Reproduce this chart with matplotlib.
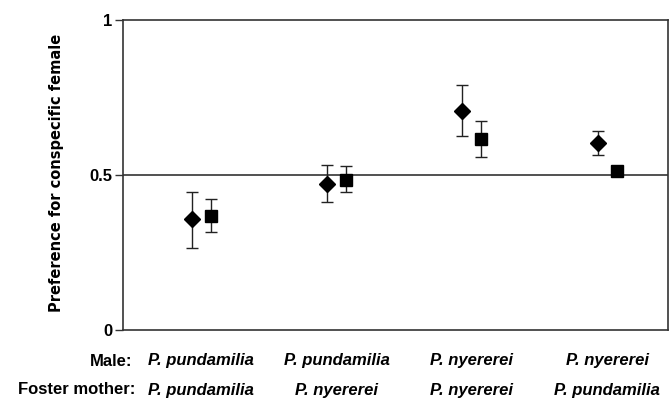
import matplotlib
matplotlib.use("Agg")
import matplotlib.pyplot as plt
import matplotlib.transforms as mtransforms
import numpy as np

plt.rcParams['font.family'] = ['Liberation Sans', 'DejaVu Sans']

male = ["P. pundamilia", "P. pundamilia", "P. nyererei", "P. nyererei"]
foster = ["P. pundamilia", "P. nyererei", "P. nyererei", "P. pundamilia"]

diamond_mean = [0.358, 0.471, 0.706, 0.603]
diamond_upper = [0.445, 0.532, 0.790, 0.642]
diamond_lower = [0.265, 0.413, 0.626, 0.565]

square_mean = [0.368, 0.484, 0.616, 0.513]
square_upper = [0.423, 0.529, 0.674, 0.522]
square_lower = [0.316, 0.445, 0.558, 0.504]

yticks = [0, 0.5, 1]
ytick_labels = ["0", "0.5", "1"]

fig = plt.figure(figsize=(6.72, 4.01), dpi=100)
ax = fig.add_axes([123/672, 71/401, 545/672, 310/401])

x = np.arange(1, len(male) + 1)
off = 0.07

dm = np.array(diamond_mean)
sm = np.array(square_mean)
ax.errorbar(x - off, dm, yerr=[dm - np.array(diamond_lower), np.array(diamond_upper) - dm],
            fmt='D', color='black', ms=8.5, ecolor='#222222', elinewidth=1.0,
            capsize=4, capthick=1.0, zorder=3)
ax.errorbar(x + off, sm, yerr=[sm - np.array(square_lower), np.array(square_upper) - sm],
            fmt='s', color='black', ms=9, ecolor='#222222', elinewidth=1.0,
            capsize=4, capthick=1.0, zorder=3)

ax.axhline(0.5, color='#333333', lw=1.2, zorder=1)

ax.set_xlim(0.42, 4.45)
ax.set_ylim(0, 1)
ax.set_yticks(yticks)
ax.set_yticklabels(ytick_labels, fontsize=12, fontweight='bold')
ax.set_xticks([])
ax.tick_params(axis='y', direction='out', length=6, width=1.0, color='#333333', pad=1.5)
for s in ax.spines.values():
    s.set_color('#333333')
    s.set_linewidth(1.2)

fig.text(57/672, 1 - 173/401, "Preference for conspecific female", rotation=90,
         ha='center', va='center', fontsize=10.5, fontweight='bold', family='DejaVu Sans')

trans = mtransforms.blended_transform_factory(ax.transData, ax.transAxes)
for xi, m, f in zip(x, male, foster):
    ax.text(xi, -0.10, m, transform=trans, ha='center', va='center',
            fontsize=12, fontweight='bold', style='italic')
    ax.text(xi, -0.194, f, transform=trans, ha='center', va='center',
            fontsize=12, fontweight='bold', style='italic')

fig.text(132/672, 1 - 361/401, "Male:", ha='right', va='center', fontsize=12, fontweight='bold')
fig.text(135/672, 1 - 390/401, "Foster mother:", ha='right', va='center', fontsize=12, fontweight='bold')

fig.savefig("out.png", dpi=100)
